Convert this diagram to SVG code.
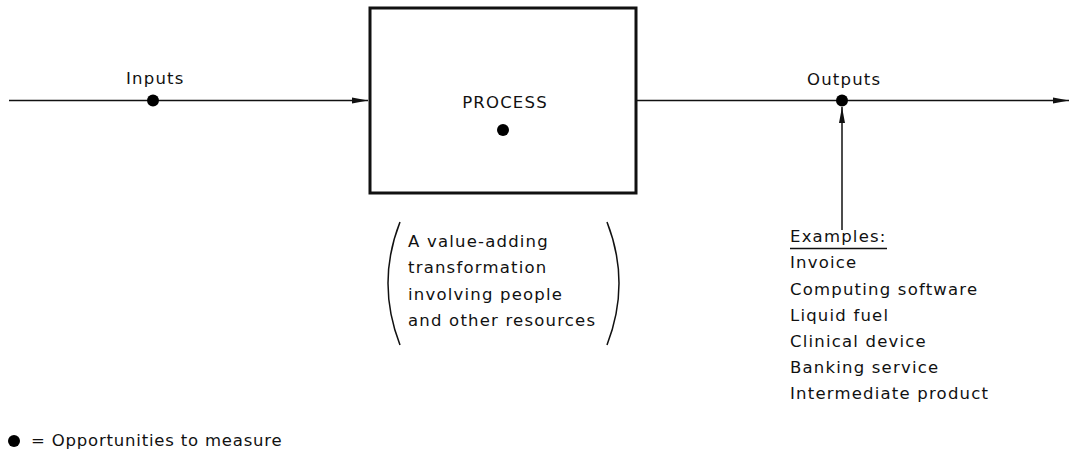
<svg xmlns="http://www.w3.org/2000/svg" width="1069" height="454" viewBox="0 0 1069 454">
<style>
text{font-family:"DejaVu Sans","Liberation Sans",sans-serif;font-size:16.5px;letter-spacing:1.2px;fill:#111}
.ln{stroke:#111;stroke-width:1.5;fill:none}
.dot{fill:#000}
</style>
<defs>
<marker id="ah" viewBox="0 0 16 8" refX="16" refY="4" markerWidth="16" markerHeight="8" markerUnits="userSpaceOnUse" orient="auto">
<path d="M0,1 L16,4 L0,7 Z" fill="#111"/>
</marker>
</defs>
<rect width="1069" height="454" fill="#fff"/>
<g id="connectors">
<line class="ln" x1="9" y1="100.5" x2="368" y2="100.5" marker-end="url(#ah)"/>
<line class="ln" x1="637" y1="100.5" x2="1069" y2="100.5" marker-end="url(#ah)"/>
<line class="ln" x1="842" y1="230" x2="842" y2="107" marker-end="url(#ah)"/>
</g>
<g id="inputs">
<text x="126" y="84">Inputs</text>
<circle class="dot" cx="153" cy="100.5" r="6"/>
</g>
<g id="process">
<rect x="370" y="8" width="266" height="185" fill="#fff" stroke="#111" stroke-width="3"/>
<text x="505" y="108" text-anchor="middle">PROCESS</text>
<circle class="dot" cx="503" cy="130" r="6"/>
</g>
<g id="description">
<path class="ln" d="M400,222 Q376,283 400,345"/>
<path class="ln" d="M607,222 Q631,283 607,345"/>
<text x="408" y="247">A value-adding</text>
<text x="408" y="273">transformation</text>
<text x="408" y="300">involving people</text>
<text x="408" y="326">and other resources</text>
</g>
<g id="outputs">
<text x="807" y="85">Outputs</text>
<circle class="dot" cx="842" cy="100.5" r="6"/>
</g>
<g id="examples">
<text x="790" y="242">Examples:</text>
<line x1="790" y1="248.5" x2="887" y2="248.5" stroke="#111" stroke-width="1.5"/>
<text x="790" y="268">Invoice</text>
<text x="790" y="295">Computing software</text>
<text x="790" y="321">Liquid fuel</text>
<text x="790" y="347">Clinical device</text>
<text x="790" y="373">Banking service</text>
<text x="790" y="399">Intermediate product</text>
</g>
<g id="legend">
<circle class="dot" cx="14" cy="441" r="6"/>
<text x="31" y="446" style="letter-spacing:0.8px">= Opportunities to measure</text>
</g>
</svg>
